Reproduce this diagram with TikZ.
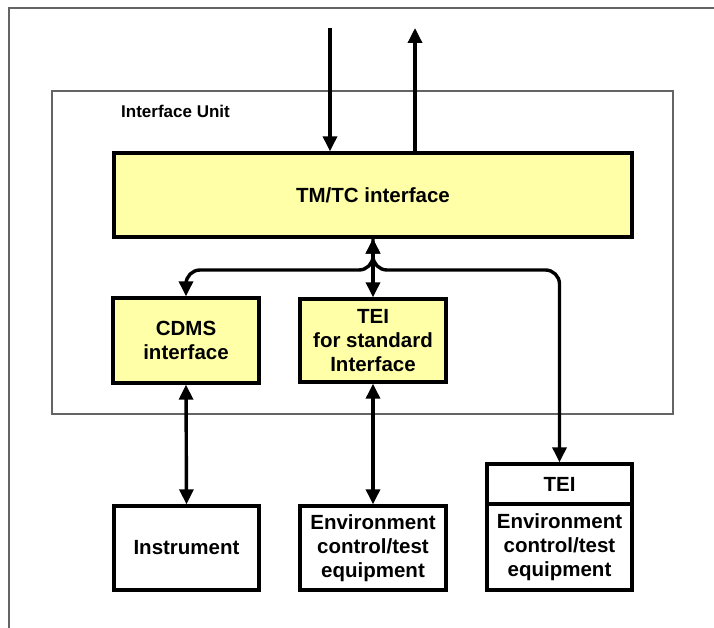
\documentclass[tikz,border=0pt]{standalone}
\usepackage{fontspec}
\setmainfont{Liberation Sans}
\usetikzlibrary{arrows.meta}

\definecolor{boxfill}{RGB}{255,255,168}
\definecolor{framegray}{RGB}{100,100,100}

\tikzset{
  unitbox/.style={draw, line width=3.4pt, fill=boxfill, align=center,
    font=\fontsize{20.5}{24}\selectfont\bfseries, inner sep=0pt},
  plainbox/.style={draw, line width=3.4pt, fill=white, align=center,
    font=\fontsize{20.5}{24}\selectfont\bfseries, inner sep=0pt},
  link/.style={line width=3.4pt},
  tip/.tip={Triangle[width=14pt,length=15pt]},
}

\begin{document}
\begin{tikzpicture}[x=1pt,y=-1pt]
  \useasboundingbox (0,0) rectangle (714,628);

  % outer frame
  \draw[framegray, line width=1.5pt] (9,640) -- (9,8) -- (725,8);

  % interface unit enclosure
  \node (iu) [draw=framegray, line width=2pt, minimum width=621pt,
    minimum height=323pt, inner sep=0pt] at (362.5,252.5) {};
  \node (iulabel) [anchor=west, inner sep=0pt,
    font=\fontsize{17}{20}\selectfont\bfseries] at (121,111) {Interface Unit};

  % functional blocks
  \node (tmtc) [unitbox, minimum width=518pt, minimum height=84pt]
    at (373,195) {TM/TC interface};
  \node (cdms) [unitbox, minimum width=146pt, minimum height=85pt]
    at (186,340.5) {CDMS\\interface};
  \node (teistd) [unitbox, minimum width=146pt, minimum height=83pt]
    at (373,340.5) {TEI\\for standard\\Interface};

  % external equipment
  \node (instr) [plainbox, minimum width=145pt, minimum height=84pt]
    at (186.5,548) {Instrument};
  \node (env) [plainbox, minimum width=146pt, minimum height=84pt]
    at (373,548) {Environment\\control/test\\equipment};
  \node (teihead) [plainbox, minimum width=145pt, minimum height=40pt]
    at (559.5,484) {TEI};
  \node (teibody) [plainbox, minimum width=145pt, minimum height=86pt]
    at (559.5,547) {Environment\\control/test\\equipment};

  % telecommand in / telemetry out
  \coordinate (tcin) at (330,28);
  \coordinate (tmout) at (415,28);
  \draw[link, -{tip}] (tcin) -- (tcin |- tmtc.north);
  \draw[link, -{tip}] (tmout |- tmtc.north) -- (tmout);

  % internal bus
  \coordinate (bus) at (373,270);
  \draw[link, {tip}-{tip}, rounded corners=14pt]
    (cdms.north) |- (bus) -- (tmtc.south);
  \draw[link, -{tip}, rounded corners=14pt]
    (tmtc.south) -- (bus) -| (teihead.north);
  \draw[link, {tip}-{tip}] (tmtc.south) -- (teistd.north);

  % links to external equipment
  \draw[link, {tip}-{tip}] (cdms.south) -- (instr.north);
  \draw[link, {tip}-{tip}] (teistd.south) -- (env.north);
\end{tikzpicture}
\end{document}
